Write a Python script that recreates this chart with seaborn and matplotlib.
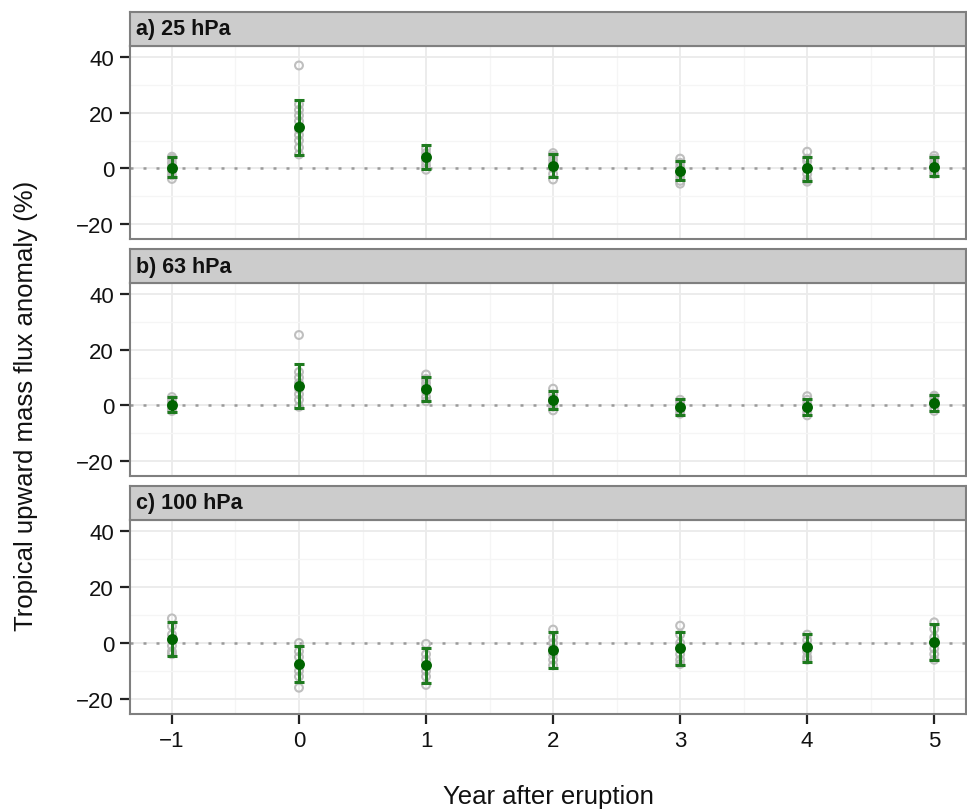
import numpy as np
import pandas as pd
import seaborn as sns
import matplotlib.pyplot as plt
from matplotlib.ticker import MultipleLocator

years = [-1, 0, 1, 2, 3, 4, 5]
panel_titles = ["a) 25 hPa", "b) 63 hPa", "c) 100 hPa"]

# ensemble mean and error bar ends per panel
mean_25 = [0.1, 14.8, 4.1, 0.9, -0.9, 0.0, 0.6]
low_25 = [-3.1, 4.8, -0.4, -3.1, -4.3, -4.4, -2.9]
high_25 = [4.1, 24.7, 8.4, 5.1, 2.7, 4.2, 4.2]

mean_63 = [0.3, 6.9, 5.8, 2.1, -0.5, -0.5, 0.9]
low_63 = [-2.4, -0.8, 1.5, -1.2, -3.4, -3.4, -2.2]
high_63 = [3.0, 14.7, 10.3, 5.0, 2.4, 2.4, 3.6]

mean_100 = [1.4, -7.5, -8.0, -2.4, -1.9, -1.4, 0.4]
low_100 = [-4.5, -14.1, -14.4, -8.8, -8.0, -6.7, -6.1]
high_100 = [7.4, -1.2, -1.7, 4.0, 4.0, 3.3, 6.8]

# individual eruptions (grey open circles), one list per year
members_25 = [[-3.8, -2.5, -1, 0.5, 2, 3.5, 4.2],
              [37, 5, 7.5, 10, 12, 14, 17, 19, 21, 23],
              [-0.5, 1, 2.5, 4, 5.5, 7],
              [-4, -2, 0, 1.5, 3, 4.5, 5.5],
              [-5.5, -4.5, -3, -1.5, 0.5, 2, 3.5],
              [-4.8, -4, -2, 0, 2.5, 3.5, 6],
              [-2, -1, 0.5, 2, 3.5, 4.5]]
members_63 = [[-2, -1, 0, 1, 2, 3],
              [25.3, -0.5, 2, 4, 6, 8, 10, 12],
              [1.5, 3, 5, 6.5, 8, 9.5, 11.1],
              [-1.8, -0.5, 1, 2.5, 4, 6],
              [-3, -2, -1, 0, 1, 2],
              [-3.6, -2.5, -1, 0.5, 2, 3.3],
              [-2, -1, 0.5, 1.5, 3, 3.5]]
members_100 = [[8.8, 6, 3, 1, -1, -3, -4],
               [0, -3, -5, -8, -10, -12, -16],
               [-0.3, -4, -6, -8, -10, -12, -15],
               [4.8, 2, 0, -2, -4, -6, -8],
               [6.2, 3, 0, -2, -4, -6, -7.5],
               [3, 1, -1, -3, -5, -6],
               [7.4, 5, 2, 0, -2, -4, -6]]

sns.set_theme(style="white")
plt.rcParams['font.family'] = ['Liberation Sans', 'DejaVu Sans']

panels = [
    (members_25, mean_25, low_25, high_25),
    (members_63, mean_63, low_63, high_63),
    (members_100, mean_100, low_100, high_100),
]

fig = plt.figure(figsize=(9.67, 8.12), dpi=100)
H = 812.0
W = 967.0
# (strip top, plot top, plot bottom) in pixels
rows = [(13, 47, 240), (250, 284, 477), (487, 521, 715)]
left, right = 130, 966

for i, ((members, mean, low, high), (st, pt, pb)) in enumerate(zip(panels, rows)):
    ax = fig.add_axes([left / W, 1 - pb / H, (right - left) / W, (pb - pt) / H])
    sax = fig.add_axes([left / W, 1 - pt / H, (right - left) / W, (pt - st) / H])

    mem = pd.DataFrame({
        "year": [y for y, vals in zip(years, members) for _ in vals],
        "value": [v for vals in members for v in vals],
    })
    stats = pd.DataFrame({"year": years, "mean": mean, "low": low, "high": high})

    ax.set_xlim(-1.33, 5.25)
    ax.set_ylim(-25.4, 44)
    ax.xaxis.set_major_locator(MultipleLocator(1))
    ax.xaxis.set_minor_locator(MultipleLocator(0.5))
    ax.yaxis.set_major_locator(MultipleLocator(20))
    ax.yaxis.set_minor_locator(MultipleLocator(10))
    ax.grid(which="major", color="#EBEBEB", linewidth=1.3)
    ax.grid(which="minor", color="#F5F5F5", linewidth=1.0)
    ax.set_axisbelow(True)

    ax.axhline(0, color="#9A9A9A", linestyle=(0, (1.2, 4)), linewidth=1.8, zorder=1)

    sns.scatterplot(data=mem, x="year", y="value", ax=ax, marker="o",
                    facecolors="none", edgecolor="#B8B8B8", linewidth=1.5,
                    s=32, alpha=0.9, zorder=2, legend=False)
    ax.errorbar(stats["year"], stats["mean"],
                yerr=[stats["mean"] - stats["low"], stats["high"] - stats["mean"]],
                fmt="none", ecolor="#1E7A1E", elinewidth=2.2, capsize=3.5,
                capthick=2.2, zorder=3)
    sns.scatterplot(data=stats, x="year", y="mean", ax=ax, color="#006400",
                    s=62, edgecolor="#006400", linewidth=0, zorder=4, legend=False)

    ax.set_xlabel("")
    ax.set_ylabel("")
    ax.set_yticks([-20, 0, 20, 40])
    ax.set_yticklabels(["\u221220", "0", "20", "40"])
    ax.tick_params(axis="y", which="major", left=True, length=7.5, width=1.6,
                   color="#222222", labelsize=16, labelcolor="#111111", pad=4)
    ax.tick_params(which="minor", length=0)
    if i == 2:
        ax.set_xticks(years)
        ax.set_xticklabels(["\u22121", "0", "1", "2", "3", "4", "5"])
        ax.tick_params(axis="x", which="major", bottom=True, length=7.5, width=1.6,
                       color="#222222", labelsize=16, labelcolor="#111111", pad=4)
    else:
        ax.tick_params(axis="x", which="major", bottom=False, labelbottom=False)
    for sp in ax.spines.values():
        sp.set_color("#7F7F7F")
        sp.set_linewidth(1.5)

    sax.set_facecolor("#CCCCCC")
    sax.set_xticks([])
    sax.set_yticks([])
    for sp in sax.spines.values():
        sp.set_color("#7F7F7F")
        sp.set_linewidth(1.5)
    sax.text(0.007, 0.5, panel_titles[i], transform=sax.transAxes, ha="left",
             va="center", fontsize=15.5, fontweight="bold", color="#111111")

fig.text(26 / W, 1 - 406 / H, "Tropical upward mass flux anomaly (%)", rotation=90,
         ha="center", va="center", fontsize=18.5, color="#111111")
fig.text((left + right) / 2 / W, 1 - 797 / H, "Year after eruption",
         ha="center", va="center", fontsize=18.5, color="#111111")

fig.savefig("out.png", dpi=100)
